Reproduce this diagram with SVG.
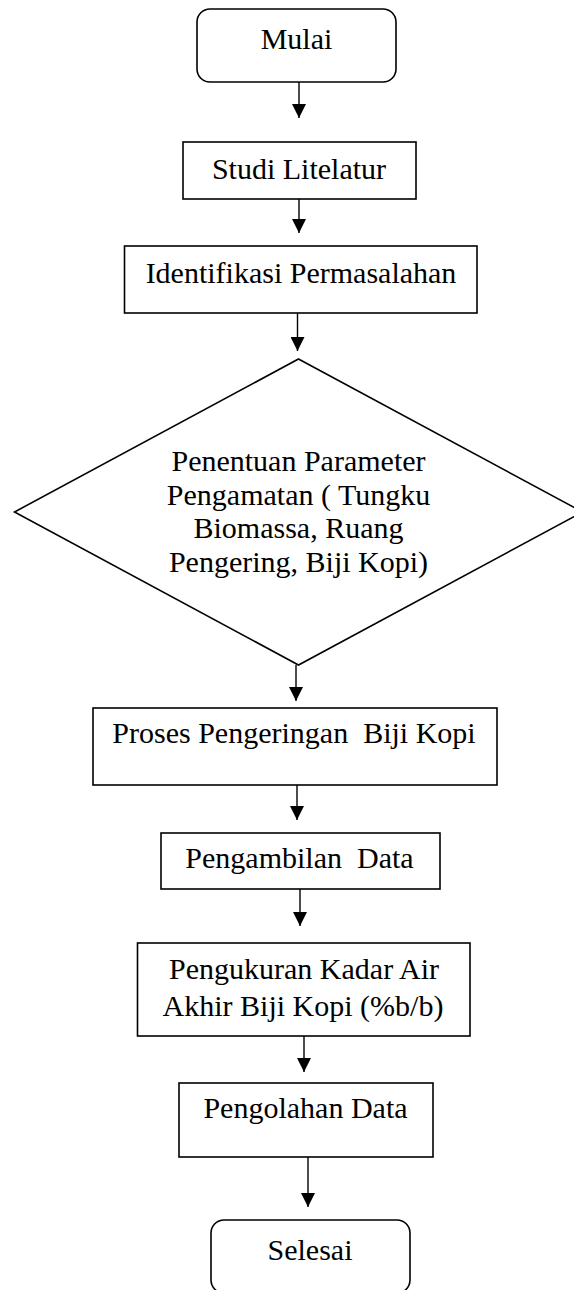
<svg xmlns="http://www.w3.org/2000/svg" width="574" height="1290" viewBox="0 0 574 1290">
<defs>
<style>
.box{fill:#fff;stroke:#000;stroke-width:1.6}
.t{font-family:"Liberation Serif","Times New Roman",serif;font-size:30px;fill:#000;text-anchor:middle}
.c{stroke:#000;stroke-width:1.4;fill:none}
</style>
<marker id="ah" markerUnits="userSpaceOnUse" markerWidth="14" markerHeight="14" refX="14" refY="7" orient="auto">
<path d="M0,0 L14,7 L0,14 Z" fill="#000"/>
</marker>
</defs>
<rect width="574" height="1290" fill="#fff"/>
<g id="connectors">
<line class="c" x1="299" y1="82" x2="299" y2="118" marker-end="url(#ah)"/>
<line class="c" x1="299" y1="199" x2="299" y2="233" marker-end="url(#ah)"/>
<line class="c" x1="297.5" y1="313" x2="297.5" y2="351" marker-end="url(#ah)"/>
<line class="c" x1="296" y1="665" x2="296" y2="701" marker-end="url(#ah)"/>
<line class="c" x1="297" y1="785" x2="297" y2="820" marker-end="url(#ah)"/>
<line class="c" x1="300" y1="889" x2="300" y2="926" marker-end="url(#ah)"/>
<line class="c" x1="304" y1="1036" x2="304" y2="1072" marker-end="url(#ah)"/>
<line class="c" x1="308" y1="1157" x2="308" y2="1207" marker-end="url(#ah)"/>
</g>
<g id="mulai">
<rect class="box" x="197" y="9" width="199" height="73" rx="13"/>
<text class="t" x="296.5" y="49">Mulai</text>
</g>
<g id="studi">
<rect class="box" x="183" y="142" width="233" height="57"/>
<text class="t" x="299" y="179">Studi Litelatur</text>
</g>
<g id="identifikasi">
<rect class="box" x="124.5" y="246" width="352.5" height="67"/>
<text class="t" x="301" y="283">Identifikasi Permasalahan</text>
</g>
<g id="penentuan">
<polygon class="box" points="298.5,359 582.5,512 298.5,665 14.5,512"/>
<text class="t" x="298.5" y="471">Penentuan Parameter</text>
<text class="t" x="298.5" y="504.5">Pengamatan ( Tungku</text>
<text class="t" x="298.5" y="538">Biomassa, Ruang</text>
<text class="t" x="298.5" y="571.5">Pengering, Biji Kopi)</text>
</g>
<g id="proses">
<rect class="box" x="93" y="708" width="404" height="77"/>
<text class="t" x="294" y="743" xml:space="preserve">Proses Pengeringan  Biji Kopi</text>
</g>
<g id="pengambilan">
<rect class="box" x="161" y="833" width="279" height="56"/>
<text class="t" x="299.5" y="868" xml:space="preserve">Pengambilan  Data</text>
</g>
<g id="pengukuran">
<rect class="box" x="137.5" y="943" width="332.5" height="93"/>
<text class="t" x="304" y="979">Pengukuran Kadar Air</text>
<text class="t" x="303" y="1016">Akhir Biji Kopi (%b/b)</text>
</g>
<g id="pengolahan">
<rect class="box" x="179" y="1083" width="254" height="74"/>
<text class="t" x="305.5" y="1118">Pengolahan Data</text>
</g>
<g id="selesai">
<rect class="box" x="211" y="1220" width="199" height="73" rx="13"/>
<text class="t" x="310" y="1260">Selesai</text>
</g>
</svg>
